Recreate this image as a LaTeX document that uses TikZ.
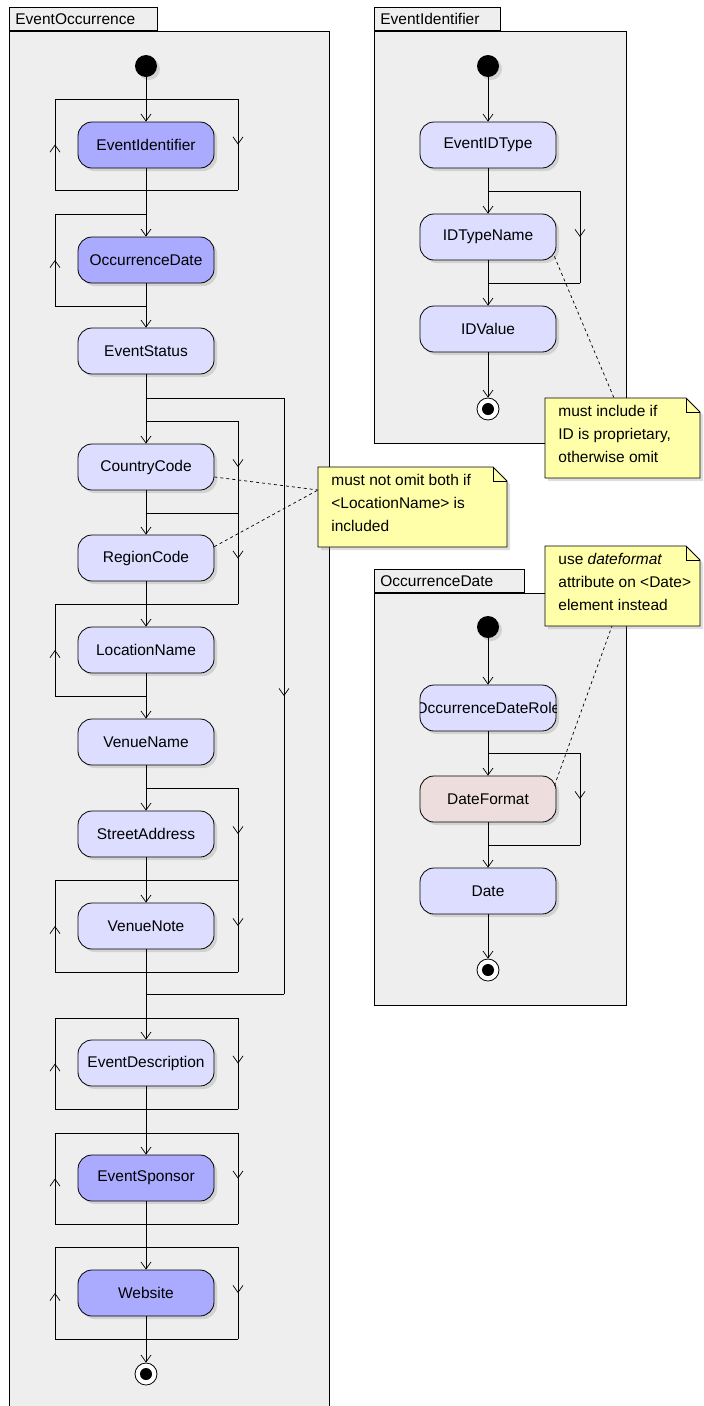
\documentclass[tikz,border=0pt]{standalone}
\usepackage{fontspec}
\setmainfont{Liberation Sans}
\usetikzlibrary{arrows.meta,decorations.markings,shadows}
\definecolor{framegray}{HTML}{EEEEEE}
\definecolor{actdark}{HTML}{AAAAFF}
\definecolor{actlight}{HTML}{DDDDFF}
\definecolor{actpink}{HTML}{EEDDDD}
\definecolor{noteyellow}{HTML}{FFFFAA}
\begin{document}
\begin{tikzpicture}[x=1pt, y=-1pt,
    line width=0.8pt,
    font=\fontsize{15.5}{18}\selectfont,
    barb/.tip={Straight Barb[length=7pt,width=10pt,line width=0.7pt]},
    act/.style={rectangle, rounded corners=14pt, draw, minimum width=136pt, minimum height=46pt,
        fill=actlight, drop shadow={opacity=0.25, shadow xshift=3pt, shadow yshift=-3pt}},
    actstrong/.style={act, fill=actdark},
    startdot/.style={circle, fill=black, minimum size=22pt, inner sep=0pt,
        drop shadow={opacity=0.25, shadow xshift=3pt, shadow yshift=-3pt}},
    enddot/.style={circle, draw, fill=white, minimum size=22pt, inner sep=0pt,
        path picture={\fill[black] (path picture bounding box.center) circle (6pt);}},
    flow/.style={-barb},
    midarr/.style={decoration={markings, mark=at position 0.5 with {\arrow{barb}}}, postaction={decorate}},
    frame/.style={draw, fill=framegray},
    tab/.style={draw, fill=framegray, anchor=south west, minimum height=23pt, inner xsep=6pt,
        text depth=0pt, align=left, text width=#1-12pt},
    notebox/.style={draw, fill=noteyellow, drop shadow={opacity=0.25, shadow xshift=3pt, shadow yshift=-3pt}},
    notetext/.style={anchor=north west, align=left, inner sep=0pt, font=\fontsize{15.5}{23}\selectfont},
    link/.style={dashed, line width=0.7pt}
  ]
\useasboundingbox (0,0) rectangle (704,1406);

% frames
\draw[frame] (9,31) rectangle (329,1420);
\node[tab=148pt] (tabEO) at (9,31) {EventOccurrence};
\draw[frame] (374,31) rectangle (626,443);
\node[tab=126pt] (tabEI) at (374,31) {EventIdentifier};
\draw[frame] (374,593) rectangle (626,1005);
\node[tab=150pt] (tabOD) at (374,593) {OccurrenceDate};

% EventOccurrence: loops and branches
\draw (146,99) -- (238,99);
\draw[midarr] (238,99) -- (238,190);
\draw (238,190) -- (55,190);
\draw[midarr] (55,190) -- (55,99);
\draw (55,99) -- (146,99);
\draw (146,306) -- (55,306);
\draw[midarr] (55,306) -- (55,214);
\draw (55,214) -- (146,214);
\draw (146,398) -- (284,398);
\draw[midarr] (284,398) -- (284,994);
\draw (284,994) -- (146,994);
\draw (146,421) -- (238,421);
\draw[midarr] (238,421) -- (238,513);
\draw (238,513) -- (146,513);
\draw[midarr] (238,513) -- (238,604);
\draw (238,604) -- (55,604);
\draw (146,696) -- (55,696);
\draw[midarr] (55,696) -- (55,604);
\draw (146,788) -- (238,788);
\draw[midarr] (238,788) -- (238,880);
\draw (238,880) -- (55,880);
\draw[midarr] (238,880) -- (238,972);
\draw (238,972) -- (55,972);
\draw[midarr] (55,972) -- (55,880);
\foreach \t/\b in {1018/1109, 1133/1224, 1247/1339} {
  \draw (146,\t) -- (238,\t);
  \draw[midarr] (238,\t) -- (238,\b);
  \draw (238,\b) -- (55,\b);
  \draw[midarr] (55,\b) -- (55,\t);
  \draw (55,\t) -- (146,\t);
}

% EventOccurrence: activities
\node[startdot] (eoStart) at (146,66) {};
\node[actstrong] (eoId) at (146,145) {EventIdentifier};
\node[actstrong] (eoDate) at (146,260) {OccurrenceDate};
\node[act] (eoStatus) at (146,351) {EventStatus};
\node[act] (eoCountry) at (146,467) {CountryCode};
\node[act] (eoRegion) at (146,558) {RegionCode};
\node[act] (eoLocation) at (146,650) {LocationName};
\node[act] (eoVenue) at (146,742) {VenueName};
\node[act] (eoStreet) at (146,834) {StreetAddress};
\node[act] (eoNote) at (146,926) {VenueNote};
\node[act] (eoDesc) at (146,1063) {EventDescription};
\node[actstrong] (eoSponsor) at (146,1178) {EventSponsor};
\node[actstrong] (eoWeb) at (146,1293) {Website};
\node[enddot] (eoEnd) at (146,1374) {};
\draw[flow] (eoStart) -- (eoId);
\draw[flow] (eoId) -- (eoDate);
\draw[flow] (eoDate) -- (eoStatus);
\draw[flow] (eoStatus) -- (eoCountry);
\draw[flow] (eoCountry) -- (eoRegion);
\draw[flow] (eoRegion) -- (eoLocation);
\draw[flow] (eoLocation) -- (eoVenue);
\draw[flow] (eoVenue) -- (eoStreet);
\draw[flow] (eoStreet) -- (eoNote);
\draw[flow] (eoNote) -- (eoDesc);
\draw[flow] (eoDesc) -- (eoSponsor);
\draw[flow] (eoSponsor) -- (eoWeb);
\draw[flow] (eoWeb) -- (eoEnd);

% EventIdentifier
\draw (488,191) -- (580,191);
\draw[midarr] (580,191) -- (580,283);
\draw (580,283) -- (488,283);
\node[startdot] (eiStart) at (488,66) {};
\node[act] (eiType) at (488,145) {EventIDType};
\node[act] (eiName) at (488,237) {IDTypeName};
\node[act] (eiValue) at (488,329) {IDValue};
\node[enddot] (eiEnd) at (488,409) {};
\draw[flow] (eiStart) -- (eiType);
\draw[flow] (eiType) -- (eiName);
\draw[flow] (eiName) -- (eiValue);
\draw[flow] (eiValue) -- (eiEnd);

% OccurrenceDate
\draw (488,753) -- (580,753);
\draw[midarr] (580,753) -- (580,845);
\draw (580,845) -- (488,845);
\node[startdot] (odStart) at (488,627) {};
\node[act] (odRole) at (488,708) {};
\begin{scope}
  \clip[rounded corners=14pt] (odRole.south west) rectangle (odRole.north east);
  \node at (odRole) {OccurrenceDateRole};
\end{scope}
\node[act, fill=actpink] (odFormat) at (488,799) {DateFormat};
\node[act] (odDate) at (488,891) {Date};
\node[enddot] (odEnd) at (488,970) {};
\draw[flow] (odStart) -- (odRole);
\draw[flow] (odRole) -- (odFormat);
\draw[flow] (odFormat) -- (odDate);
\draw[flow] (odDate) -- (odEnd);

% notes
\draw[notebox] (545,398) -- (686,398) -- (700,412) -- (700,478) -- (545,478) -- cycle;
\draw (686,398) -- (686,412) -- (700,412);
\node[notetext] (noteId) at (558,405) {must include if\\ID is proprietary,\\otherwise omit};
\coordinate (noteIdTip) at (614,398);
\draw[link] (eiName.south east) ++(-2,-4) coordinate (eiNameCorner) -- (noteIdTip);

\draw[notebox] (318,467) -- (493,467) -- (507,481) -- (507,547) -- (318,547) -- cycle;
\draw (493,467) -- (493,481) -- (507,481);
\node[notetext] (noteLoc) at (331,474) {must not omit both if\\<LocationName> is\\included};
\coordinate (noteLocTip) at (318,490);
\draw[link] (eoCountry.east) ++(0,10) coordinate (eoCountryPt) -- (noteLocTip);
\draw[link] (eoRegion.north east) ++(0,12) coordinate (eoRegionPt) -- (noteLocTip);

\draw[notebox] (545,546) -- (686,546) -- (700,560) -- (700,626) -- (545,626) -- cycle;
\draw (686,546) -- (686,560) -- (700,560);
\node[notetext] (noteDate) at (558,553) {use \textit{dateformat}\\attribute on <Date>\\element instead};
\coordinate (noteDateTip) at (612,626);
\draw[link] (odFormat.north east) ++(-2,10) coordinate (odFormatPt) -- (noteDateTip);
\end{tikzpicture}
\end{document}
